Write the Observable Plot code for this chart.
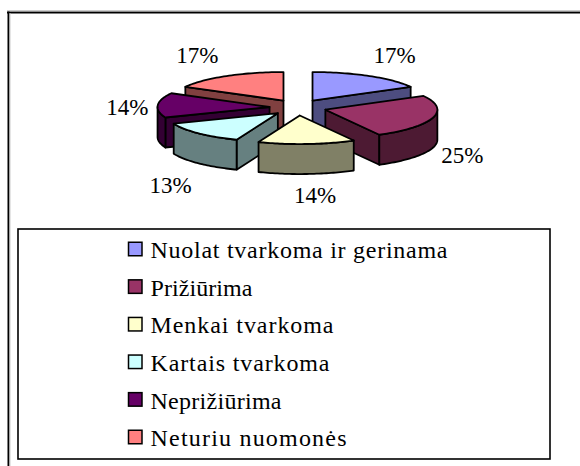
<!DOCTYPE html>
<html>
<head>
<meta charset="utf-8">
<script src="https://cdn.jsdelivr.net/npm/d3@7"></script>
<script src="https://cdn.jsdelivr.net/npm/@observablehq/plot@0.6"></script>
<style>html,body{margin:0;padding:0;background:#fff}svg{display:block}</style>
</head>
<body>
<div id="chart"></div>
<script>
const categories = ["Nuolat tvarkoma ir gerinama", "Prižiūrima", "Menkai tvarkoma", "Kartais tvarkoma", "Neprižiūrima", "Neturiu nuomonės"];
const shares = [17, 25, 14, 13, 14, 17];
const topColors = ["#9999FF", "#993366", "#FFFFCC", "#CCFFFF", "#660066", "#FF8080"];
const sideColors = ["#4D4D80", "#4D1A33", "#808066", "#668080", "#330033", "#804040"];

// Layout of the 3D pie
const W = 580, H = 466, LABEL_FONT = 23, LEGEND_FONT = 24;
const cx = 297.5, cy = 107, radius = 112, tilt = 0.255, depth = 30;
const explodeX = 28.5, explodeY = 8;
const labelRX = 178, labelRY = 60;
const labelNudgeX = [6, -6.5, 6, -1.6, 7, -10];
const labelNudgeY = [0, 2, -1, 7, 4, 0];
const drawOrder = [5, 0, 4, 1, 3, 2];
const rad = a => a * Math.PI / 180;

const total = d3.sum(shares);
let run = 0;
const slices = shares.map((v, i) => {
  const a0 = run / total * 360; run += v;
  const a1 = run / total * 360;
  const mid = (a0 + a1) / 2;
  return {i, a0, a1, mid, ox: cx + explodeX * Math.sin(rad(mid)), oy: cy - explodeY * Math.cos(rad(mid))};
});
const rimPoint = (s, a, dz = 0) => ({
  x: s.ox + radius * Math.sin(rad(a)),
  y: s.oy - radius * tilt * Math.cos(rad(a)) + dz
});
const apex = (s, dz = 0) => ({x: s.ox, y: s.oy + dz});
const arc = (from, to) => d3.range(0, 1.0001, 1 / 40).map(t => from + (to - from) * t);

const faces = [];
function addFace(id, color, pts) {
  [...pts, pts[0]].forEach(p => faces.push({...p, id, color}));
}
for (const k of drawOrder) {
  const s = slices[k], side = sideColors[k];
  if (Math.sin(rad(s.a0)) < -1e-6) addFace(`s0-${k}`, side, [apex(s), rimPoint(s, s.a0), rimPoint(s, s.a0, depth), apex(s, depth)]);
  if (Math.sin(rad(s.a1)) > 1e-6) addFace(`s1-${k}`, side, [apex(s), rimPoint(s, s.a1), rimPoint(s, s.a1, depth), apex(s, depth)]);
  const f = Math.max(s.a0, 90), t = Math.min(s.a1, 270);
  if (t > f) {
    const as = arc(f, t);
    addFace(`o-${k}`, side, [...as.map(a => rimPoint(s, a)), ...as.slice().reverse().map(a => rimPoint(s, a, depth))]);
  }
  addFace(`t-${k}`, topColors[k], [apex(s), ...arc(s.a0, s.a1).map(a => rimPoint(s, a))]);
}

const labels = slices.map(s => ({
  text: shares[s.i] + "%",
  x: cx + labelRX * Math.sin(rad(s.mid)) + labelNudgeX[s.i],
  y: cy - labelRY * Math.cos(rad(s.mid)) + (Math.cos(rad(s.mid)) < 0 ? 29 : 0) + labelNudgeY[s.i]
}));

// Legend layout
const legTop = 229, legBottom = 459, legLeft = 18, legRight = 550;
const rowFirst = 249, rowStep = 37.6, swX = 128.5, swSize = 13.5, textX = 150, textDy = 1;
const legendTextWidths = [297, 102, 183, 179, 131, 196];
const legend = categories.map((name, i) => ({name, color: topColors[i], y: rowFirst + rowStep * i}));

const chart = Plot.plot({
  width: W, height: H,
  margin: 0,
  x: {domain: [0, W], range: [0, W], axis: null},
  y: {domain: [0, H], range: [0, H], axis: null},
  color: {type: "identity"},
  marks: [
    // outer chart frame (left and top edges are what the reference shows)
    Plot.ruleX([8], {y1: 11, y2: H, stroke: "#000", strokeWidth: 2}),
    Plot.ruleY([12], {x1: 7, x2: W, stroke: "#000", strokeWidth: 2}),
    Plot.ruleY([10.5], {x1: 7, x2: W, stroke: "#999", strokeWidth: 1}),
    Plot.ruleX([9.5], {y1: 13, y2: H, stroke: "#ccc", strokeWidth: 1}),
    // pie faces
    Plot.line(faces, {x: "x", y: "y", z: "id", fill: "color", stroke: "#000", strokeWidth: 1.8, strokeLinejoin: "round"}),
    Plot.text(labels, {x: "x", y: "y", text: "text", fontFamily: "Liberation Serif", fontSize: LABEL_FONT, fill: "#000", textAnchor: "middle", lineAnchor: "middle"}),
    // legend
    Plot.rect([0], {x1: legLeft, x2: legRight, y1: legTop, y2: legBottom, fill: "#fff", stroke: "#000", strokeWidth: 1.6}),
    Plot.rect(legend, {x1: () => swX, x2: () => swX + swSize, y1: d => d.y - swSize / 2, y2: d => d.y + swSize / 2, fill: "color", stroke: "#000", strokeWidth: 1.5}),
    Plot.text(legend, {x: () => textX, y: d => d.y + textDy, text: "name", className: "legend-text", fontFamily: "Liberation Serif", fontSize: LEGEND_FONT, fill: "#000", textAnchor: "start", lineAnchor: "middle"})
  ]
});
d3.select(chart).selectAll(".legend-text text").each(function (_, i) {
  this.setAttribute("textLength", legendTextWidths[i]);
  this.setAttribute("lengthAdjust", "spacing");
});
document.getElementById("chart").append(chart);
</script>
</body>
</html>
